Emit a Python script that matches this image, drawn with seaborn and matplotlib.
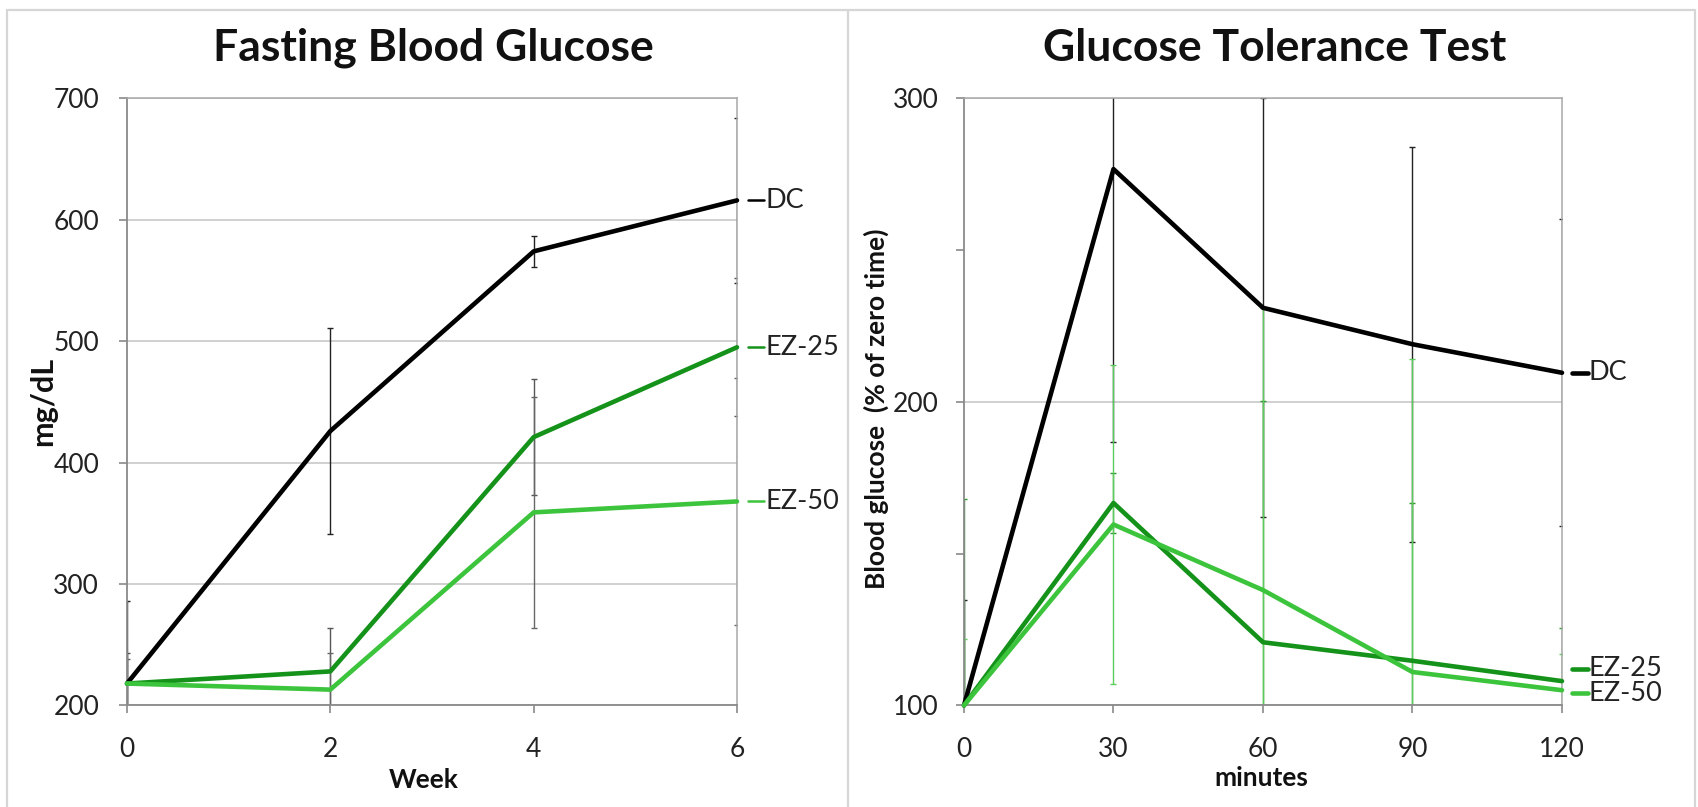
import matplotlib
matplotlib.use("Agg")
import matplotlib.pyplot as plt
import matplotlib.transforms as mtransforms
from matplotlib.lines import Line2D
import seaborn as sns
import pandas as pd

# ---------------- data ----------------
weeks = [0, 2, 4, 6]
fbg_dc = [218, 426, 574, 616]
fbg_ez25 = [218, 228, 421, 495]
fbg_ez50 = [218, 213, 359, 368]
fbg_dc_err = [68, 85, 12.5, 68]
fbg_ez25_err = [25, 36, 48, 57]
fbg_ez50_err = [20, 30, 95, 102]

minutes = [0, 30, 60, 90, 120]
gtt_dc = [100, 276.7, 231, 219, 209.6]
gtt_ez25 = [100, 166.7, 120.8, 114.7, 108]
gtt_ez50 = [100, 159.6, 138, 111, 105]
gtt_dc_err = [34.7, 90, 69, 65, 50.5]
gtt_ez25_err = [68, 10, 79.5, 52, 17.6]
gtt_ez50_err = [21.8, 52.4, 93, 103, 12]

groups = ["DC", "EZ-25", "EZ-50"]
left_yticks = [200, 300, 400, 500, 600, 700]
left_xticks = [0, 2, 4, 6]
right_yticks = [100, 200, 300]
right_xticks = [0, 30, 60, 90, 120]

titles = ["Fasting Blood Glucose", "Glucose Tolerance Test"]

# ---------------- style ----------------
sns.set_theme(style="white")
plt.rcParams["font.family"] = ["Lato", "DejaVu Sans"]

colors = {"DC": "#000000", "EZ-25": "#14921A", "EZ-50": "#3DC43D"}
left_err_colors = {"DC": "#222222", "EZ-25": "#555555", "EZ-50": "#666666"}
right_err_colors = {"DC": "#222222", "EZ-25": "#2E9A2E", "EZ-50": "#5CCC5C"}
grid_c = "#C4C4C4"
spine_c = "#8A8A8A"
frame_c = "#D6D6D6"

W, H = 1699, 807
fig = plt.figure(figsize=(W / 100, H / 100), dpi=100)

axL = fig.add_axes([127 / W, 1 - 705.4 / H, 610 / W, 607 / H])
axR = fig.add_axes([964 / W, 1 - 705.4 / H, 598 / W, 607 / H])

def long_df(x, series):
    rows = []
    for g, vals in zip(groups, series):
        for xi, v in zip(x, vals):
            rows.append({"x": xi, "y": v, "group": g})
    return pd.DataFrame(rows)

dfL = long_df(weeks, [fbg_dc, fbg_ez25, fbg_ez50])
dfR = long_df(minutes, [gtt_dc, gtt_ez25, gtt_ez50])

def draw(ax, df, x, means, errs, err_colors, ylim, yticks, xticks, xlim):
    for g, m, e in zip(groups, means, errs):
        ax.errorbar(x, m, yerr=e, fmt="none", ecolor=err_colors[g],
                    elinewidth=1.0, capsize=2.5, capthick=1.0, zorder=2)
    n_before = len(ax.lines)
    sns.lineplot(data=df, x="x", y="y", hue="group", hue_order=groups,
                 palette=colors, linewidth=3.3, legend=False, ax=ax,
                 zorder=4, errorbar=None)
    for ln in ax.lines[n_before:]:
        ln.set_clip_on(False)
    ax.set_ylim(*ylim)
    ax.set_xlim(*xlim)
    ax.set_yticks(yticks)
    ax.set_xticks(xticks)
    ax.yaxis.grid(True, color=grid_c, linewidth=1.1)
    ax.xaxis.grid(False)
    ax.set_axisbelow(True)
    for s in ["left", "bottom"]:
        ax.spines[s].set_color(spine_c)
        ax.spines[s].set_linewidth(1.3)
    for s in ["top", "right"]:
        ax.spines[s].set_color("#A8A8A8")
        ax.spines[s].set_linewidth(1.1)
    ax.tick_params(axis="both", which="both", direction="out", colors=spine_c,
                   labelcolor="#222222", labelsize=19)
    ax.tick_params(axis="y", which="major", length=6, width=1.2, pad=14)
    ax.tick_params(axis="x", which="major", length=6, width=1.2, pad=17)
    ax.tick_params(left=True, bottom=True)

draw(axL, dfL, weeks, [fbg_dc, fbg_ez25, fbg_ez50],
     [fbg_dc_err, fbg_ez25_err, fbg_ez50_err], left_err_colors,
     (200, 700), left_yticks, left_xticks, (0, 6))
draw(axR, dfR, minutes, [gtt_dc, gtt_ez25, gtt_ez50],
     [gtt_dc_err, gtt_ez25_err, gtt_ez50_err], right_err_colors,
     (100, 300), right_yticks, right_xticks, (0, 120))

axR.set_yticks([150, 250], minor=True)
axR.tick_params(axis="y", which="minor", length=6, width=1.2, left=True)
axR.tick_params(axis="y", which="major", pad=12)

# axis labels
lab_kw = dict(fontweight="bold", color="#111111")
axL.set_xlabel("Week", va="center", fontsize=19, **lab_kw)
axL.xaxis.set_label_coords(0.487, -0.123)
axL.set_ylabel("mg/dL", va="center", fontsize=22, **lab_kw)
axL.yaxis.set_label_coords(-0.138, 0.5)
axR.set_xlabel("minutes", va="center", fontsize=19, **lab_kw)
axR.xaxis.set_label_coords(0.497, -0.12)
axR.set_ylabel("Blood glucose  (% of zero time)", va="center", fontsize=19,
               **lab_kw)
axR.yaxis.set_label_coords(-0.146, 0.488)

# titles
fig.text(433 / W, 1 - 48 / H, titles[0], ha="center", va="center",
         fontsize=32, fontweight="bold", color="#111111")
fig.text(1275 / W, 1 - 48 / H, titles[1], ha="center", va="center",
         fontsize=32, fontweight="bold", color="#111111")

# end-of-line series labels
def end_labels(ax, ys, lw, x0, x1, xt):
    tr = mtransforms.blended_transform_factory(ax.transAxes, ax.transData)
    for g, y in zip(groups, ys):
        ax.add_line(Line2D([x0, x1], [y, y], transform=tr, color=colors[g],
                           linewidth=lw, clip_on=False))
        ax.text(xt, y, g, transform=tr, ha="left", va="center",
                fontsize=19.5, color="#222222", clip_on=False)

end_labels(axL, [fbg_dc[-1], fbg_ez25[-1], fbg_ez50[-1]], 1.8,
           1.018, 1.044, 1.046)
end_labels(axR, [gtt_dc[-1], gtt_ez25[-1] + 4, gtt_ez50[-1] - 1], 3.3,
           1.017, 1.043, 1.045)

# panel frames
for xs, ys in [([7, 7], [0, 797]), ([7, 1695], [797, 797]),
               ([848, 848], [0, 797]), ([1695, 1695], [0, 797])]:
    fig.add_artist(Line2D([x / W for x in xs], [y / H for y in ys],
                          transform=fig.transFigure, color=frame_c,
                          linewidth=1.6))

fig.savefig("out.png", dpi=100, facecolor="white")
